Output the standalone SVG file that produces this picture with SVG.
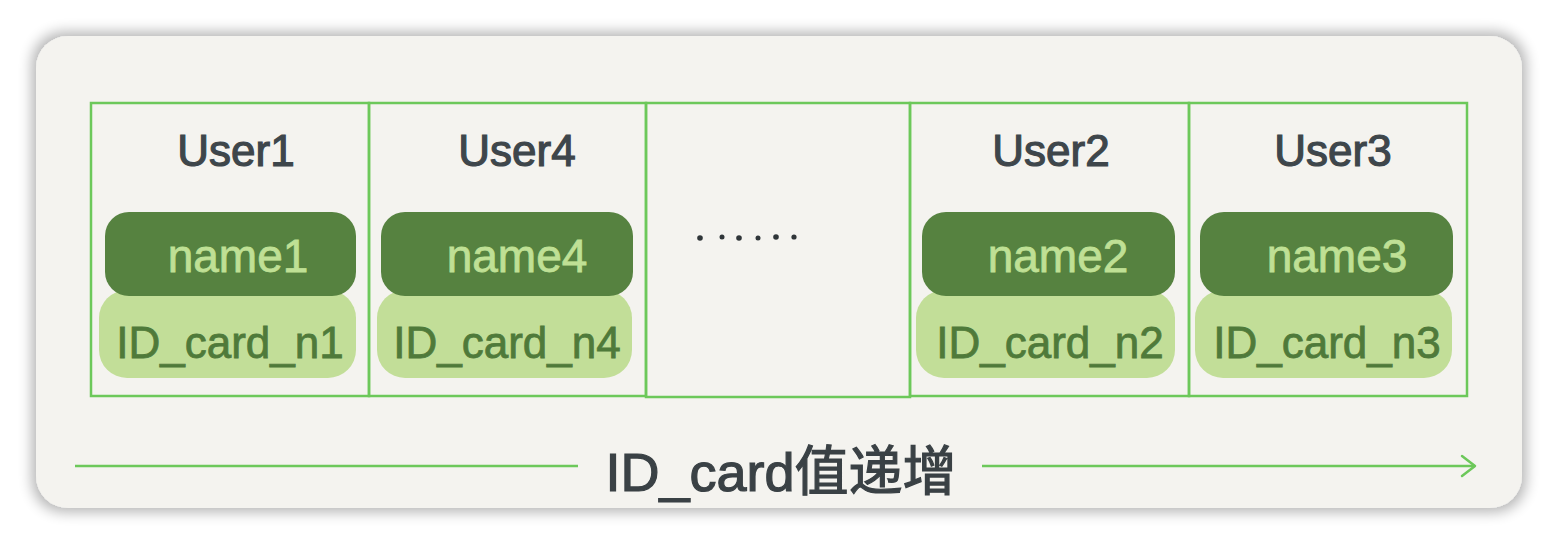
<svg xmlns="http://www.w3.org/2000/svg" width="1558" height="544" viewBox="0 0 1558 544">
  <defs>
    <filter id="shadow" x="-5%" y="-10%" width="110%" height="120%">
      <feMorphology in="SourceAlpha" operator="dilate" radius="4" result="d"/>
      <feGaussianBlur in="d" stdDeviation="7"/>
      <feComponentTransfer><feFuncA type="linear" slope="0.3"/></feComponentTransfer>
      <feMerge><feMergeNode/><feMergeNode in="SourceGraphic"/></feMerge>
    </filter>
  </defs>
  <style>
    .cell{fill:none;stroke:#6cc85a;stroke-width:2.5}
    .user{font-family:"Liberation Sans",sans-serif;font-size:44px;fill:#3e464b;stroke:#3e464b;stroke-width:1.2;text-anchor:middle}
    .namep{fill:#568240}
    .idp{fill:#c2de98}
    .name{font-family:"Liberation Sans",sans-serif;font-size:46px;fill:#bfe095;stroke:#bfe095;stroke-width:0.8;text-anchor:middle}
    .id{font-family:"Liberation Sans",sans-serif;font-size:44px;fill:#4f7a3a;stroke:#4f7a3a;stroke-width:0.8;text-anchor:middle}
    .conn{stroke:#6cc85a;stroke-width:2.5;fill:none}
    .label{font-family:"Liberation Sans","Noto Sans CJK SC",sans-serif;font-size:54px;fill:#3a4145;stroke:#3a4145;stroke-width:1.2;text-anchor:middle}
  </style>
  <rect x="0" y="0" width="1558" height="544" fill="#ffffff"/>
  <rect x="36" y="36" width="1486" height="472" rx="32" fill="#f4f3ef" filter="url(#shadow)"/>

  <g id="cell1">
    <rect class="cell" x="91" y="103" width="278" height="293"/>
    <text class="user" x="236" y="166">User1</text>
    <rect class="idp" x="99" y="290" width="257" height="88" rx="28"/>
    <rect class="namep" x="105" y="212" width="251" height="84" rx="24"/>
    <text class="name" x="238" y="272">name1</text>
    <text class="id" x="230" y="358">ID_card_n1</text>
  </g>
  <g id="cell4">
    <rect class="cell" x="369" y="103" width="277" height="293"/>
    <text class="user" x="517" y="166">User4</text>
    <rect class="idp" x="377" y="290" width="255" height="88" rx="28"/>
    <rect class="namep" x="381" y="212" width="252" height="84" rx="24"/>
    <text class="name" x="517" y="272">name4</text>
    <text class="id" x="507" y="358">ID_card_n4</text>
  </g>
  <g id="ellipsis">
    <rect class="cell" x="646" y="103" width="264" height="294"/>
    <g fill="#2f3538">
      <circle cx="700" cy="238" r="2.8"/>
      <circle cx="722" cy="237" r="2.5"/>
      <circle cx="739" cy="238" r="2.8"/>
      <circle cx="758" cy="238" r="2.5"/>
      <circle cx="776" cy="237" r="2.8"/>
      <circle cx="794" cy="237" r="2.6"/>
    </g>
  </g>
  <g id="cell2">
    <rect class="cell" x="910" y="103" width="279" height="293"/>
    <text class="user" x="1051" y="166">User2</text>
    <rect class="idp" x="916" y="290" width="259" height="88" rx="28"/>
    <rect class="namep" x="922" y="212" width="253" height="84" rx="24"/>
    <text class="name" x="1058" y="272">name2</text>
    <text class="id" x="1050" y="358">ID_card_n2</text>
  </g>
  <g id="cell3">
    <rect class="cell" x="1189" y="103" width="278" height="293"/>
    <text class="user" x="1333" y="166">User3</text>
    <rect class="idp" x="1195" y="290" width="257" height="88" rx="28"/>
    <rect class="namep" x="1200" y="212" width="253" height="84" rx="24"/>
    <text class="name" x="1337" y="272">name3</text>
    <text class="id" x="1327" y="358">ID_card_n3</text>
  </g>

  <g id="connectors">
    <line class="conn" x1="75" y1="466" x2="578" y2="466"/>
    <line class="conn" x1="982" y1="466" x2="1475" y2="466"/>
    <polyline class="conn" points="1462,456 1475,466 1462,476" stroke-linecap="round" stroke-linejoin="round"/>
  </g>
  <g id="axis-label">
    <text class="label" x="781" y="491">ID_card值递增</text>
  </g>
</svg>
